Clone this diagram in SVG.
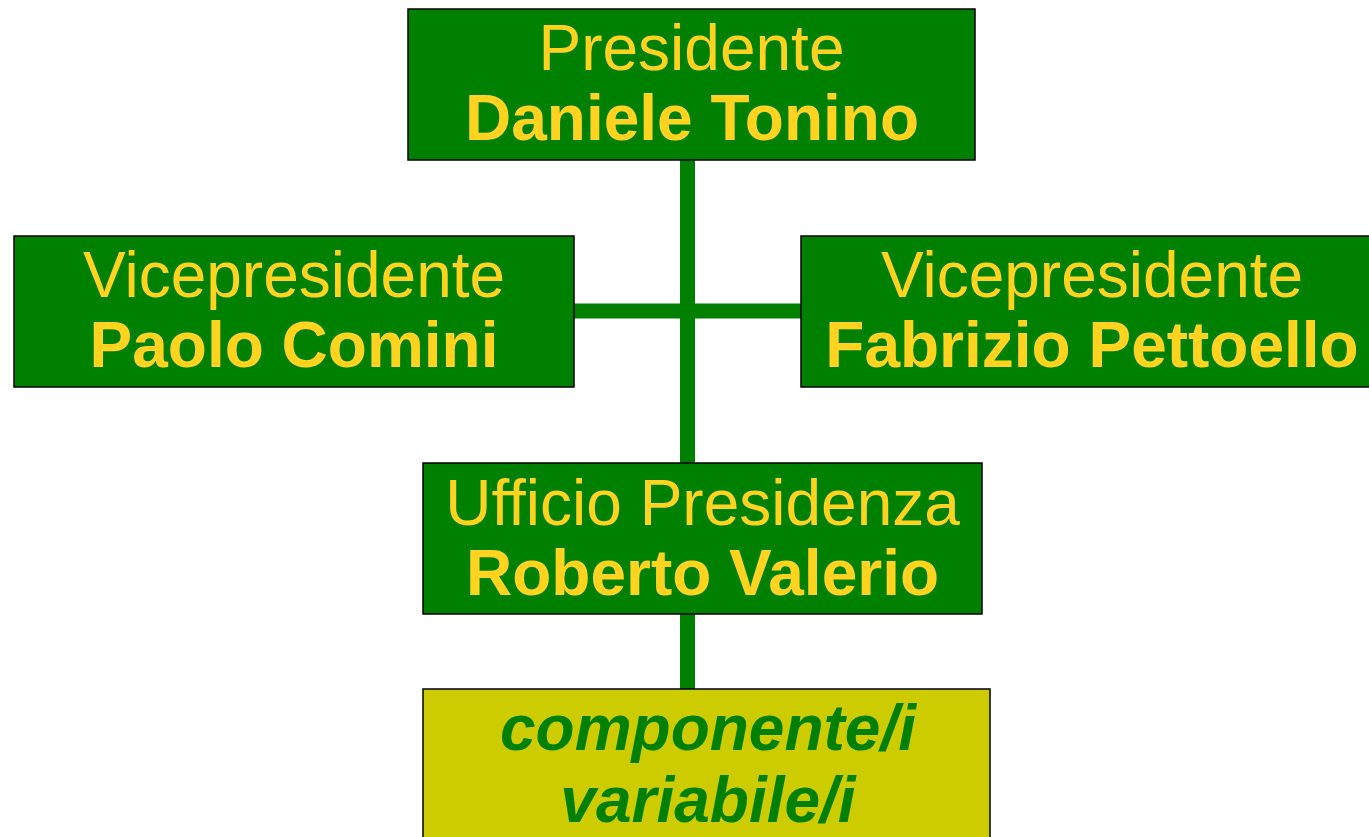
<svg xmlns="http://www.w3.org/2000/svg" width="1369" height="837" viewBox="0 0 1369 837">
<style>
.box{fill:#008000;stroke:#000;stroke-width:1.5}
.var{fill:#CCCC00;stroke:#000;stroke-width:1.5}
.t{font-family:"Liberation Sans",Arial,sans-serif;font-size:64px;fill:#FFD320;text-anchor:middle}
.b{font-weight:bold}
.v{font-family:"Liberation Sans",Arial,sans-serif;font-size:64px;fill:#008000;text-anchor:middle;font-weight:bold;font-style:italic}
.c{stroke:#008000;stroke-width:15;fill:none}
</style>
<rect width="1369" height="837" fill="#fff"/>
<g id="connectors">
<line class="c" x1="687.5" y1="160" x2="687.5" y2="463"/>
<line class="c" x1="574" y1="311" x2="801" y2="311"/>
<line class="c" x1="687.5" y1="614" x2="687.5" y2="690"/>
</g>
<g id="presidente">
<rect class="box" x="408" y="9" width="567" height="151"/>
<text class="t" x="691.5" y="70">Presidente</text>
<text class="t b" x="692" y="140">Daniele Tonino</text>
</g>
<g id="vice-comini">
<rect class="box" x="14" y="236" width="560" height="151"/>
<text class="t" x="294" y="297">Vicepresidente</text>
<text class="t b" x="294" y="367">Paolo Comini</text>
</g>
<g id="vice-pettoello">
<rect class="box" x="801" y="236" width="582" height="151"/>
<text class="t" x="1092" y="297">Vicepresidente</text>
<text class="t b" x="1092" y="367">Fabrizio Pettoello</text>
</g>
<g id="ufficio">
<rect class="box" x="423" y="463" width="559" height="151"/>
<text class="t" x="702.5" y="525">Ufficio Presidenza</text>
<text class="t b" x="702.5" y="595">Roberto Valerio</text>
</g>
<g id="componenti">
<rect class="var" x="423" y="689" width="567" height="160"/>
<text class="v" x="708" y="750">componente/i</text>
<text class="v" x="708" y="822">variabile/i</text>
</g>
</svg>
